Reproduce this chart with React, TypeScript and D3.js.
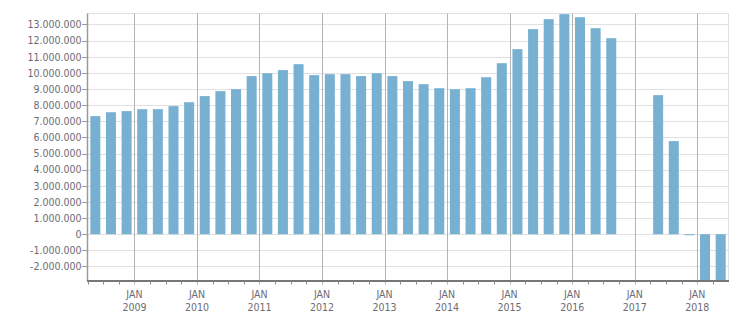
import React from "react";
import * as d3 from "d3";

const quarters: string[] = [
  "2008Q2", "2008Q3", "2008Q4",
  "2009Q1", "2009Q2", "2009Q3", "2009Q4",
  "2010Q1", "2010Q2", "2010Q3", "2010Q4",
  "2011Q1", "2011Q2", "2011Q3", "2011Q4",
  "2012Q1", "2012Q2", "2012Q3", "2012Q4",
  "2013Q1", "2013Q2", "2013Q3", "2013Q4",
  "2014Q1", "2014Q2", "2014Q3", "2014Q4",
  "2015Q1", "2015Q2", "2015Q3", "2015Q4",
  "2016Q1", "2016Q2", "2016Q3", "2016Q4",
  "2017Q1", "2017Q2", "2017Q3", "2017Q4",
  "2018Q1", "2018Q2",
];

const values: (number | null)[] = [
  7320000, 7560000, 7630000,
  7750000, 7750000, 7940000, 8180000,
  8560000, 8870000, 8990000, 9800000,
  9980000, 10170000, 10540000, 9860000,
  9920000, 9920000, 9800000, 9980000,
  9800000, 9490000, 9300000, 9050000,
  8990000, 9050000, 9730000, 10600000,
  11470000, 12710000, 13330000, 13640000,
  13450000, 12770000, 12150000, null,
  null, 8620000, 5770000, -50000,
  -2900000, -2900000,
];

const yTicks: number[] = [
  -2000000, -1000000, 0, 1000000, 2000000, 3000000, 4000000, 5000000,
  6000000, 7000000, 8000000, 9000000, 10000000, 11000000, 12000000, 13000000,
];

const yDomain: [number, number] = [-2900000, 13680000];

const W = 751;
const H = 313;
const left = 87.5;
const right = 728.5;
const top = 13.5;
const bottom = 281;
const font = "'DejaVu Sans Condensed', 'Liberation Sans', sans-serif";
const textColor = "#6c6c74";

const fmt = (v: number) =>
  v === 0 ? "0" : (v < 0 ? "-" : "") + d3.format(",")(Math.abs(v)).replace(/,/g, ".");

export default function App() {
  const x = d3
    .scaleBand<string>()
    .domain(quarters)
    .range([left, right])
    .paddingInner(0.36)
    .paddingOuter(0.18);
  const y = d3.scaleLinear().domain(yDomain).range([bottom, top]);
  const step = x.step();
  const off = (step - x.bandwidth()) / 2;
  const qStart = (q: string) => (x(q) as number) - off;

  const janQuarters = quarters.filter((q) => q.endsWith("Q1"));
  const minorQuarters = quarters.filter((q) => !q.endsWith("Q1"));

  return (
    <svg
      width={W}
      height={H}
      style={{ position: "absolute", left: 0, top: 0, background: "#fff" }}
    >
      {/* horizontal gridlines */}
      {yTicks.map((t) => (
        <line
          key={"g" + t}
          x1={left}
          x2={right}
          y1={Math.round(y(t)) + 0.5}
          y2={Math.round(y(t)) + 0.5}
          stroke="#e1e1e1"
          strokeWidth={1}
        />
      ))}
      {/* top and right frame */}
      <line x1={left} x2={right} y1={top} y2={top} stroke="#e1e1e1" />
      <line x1={right} x2={right} y1={top} y2={bottom} stroke="#e1e1e1" />
      {/* vertical Jan gridlines */}
      {janQuarters.map((q) => (
        <line
          key={"v" + q}
          x1={Math.round(qStart(q)) + 0.5}
          x2={Math.round(qStart(q)) + 0.5}
          y1={top}
          y2={bottom + 3.5}
          stroke="#b3b3b3"
          strokeWidth={1}
        />
      ))}
      {/* bars */}
      {quarters.map((q, i) => {
        const v = values[i];
        if (v === null) return null;
        const y0 = y(0);
        const yv = y(v);
        const h = Math.max(Math.abs(yv - y0), 1);
        return (
          <rect
            key={"b" + q}
            x={x(q)}
            width={x.bandwidth()}
            y={v >= 0 ? yv : y0}
            height={h}
            fill="#77b0d1"
          />
        );
      })}
      {/* left axis */}
      <line x1={left} x2={left} y1={top} y2={bottom} stroke="#9a9a9a" strokeWidth={1.5} />
      {yTicks.map((t) => (
        <g key={"t" + t}>
          <line
            x1={left - 5.5}
            x2={left}
            y1={Math.round(y(t)) + 0.5}
            y2={Math.round(y(t)) + 0.5}
            stroke="#9a9a9a"
          />
          <text
            x={left - 6}
            y={y(t)}
            dy="0.36em"
            textAnchor="end"
            fontFamily={font}
            fontSize={10.5}
            fill={textColor}
          >
            {fmt(t)}
          </text>
        </g>
      ))}
      {/* bottom axis */}
      <line x1={left - 0.5} x2={right + 0.5} y1={bottom} y2={bottom} stroke="#777" strokeWidth={2} />
      {minorQuarters.map((q) => (
        <line
          key={"m" + q}
          x1={Math.round(qStart(q)) + 0.5}
          x2={Math.round(qStart(q)) + 0.5}
          y1={bottom}
          y2={bottom + 3.5}
          stroke="#888"
        />
      ))}
      {janQuarters.map((q) => (
        <g key={"l" + q}>
          <text
            x={qStart(q)}
            y={298.3}
            textAnchor="middle"
            fontFamily={font}
            fontSize={10.5}
            fill={textColor}
          >
            JAN
          </text>
          <text
            x={qStart(q)}
            y={310.7}
            textAnchor="middle"
            fontFamily={font}
            fontSize={10.5}
            fill={textColor}
          >
            {q.slice(0, 4)}
          </text>
        </g>
      ))}
    </svg>
  );
}
